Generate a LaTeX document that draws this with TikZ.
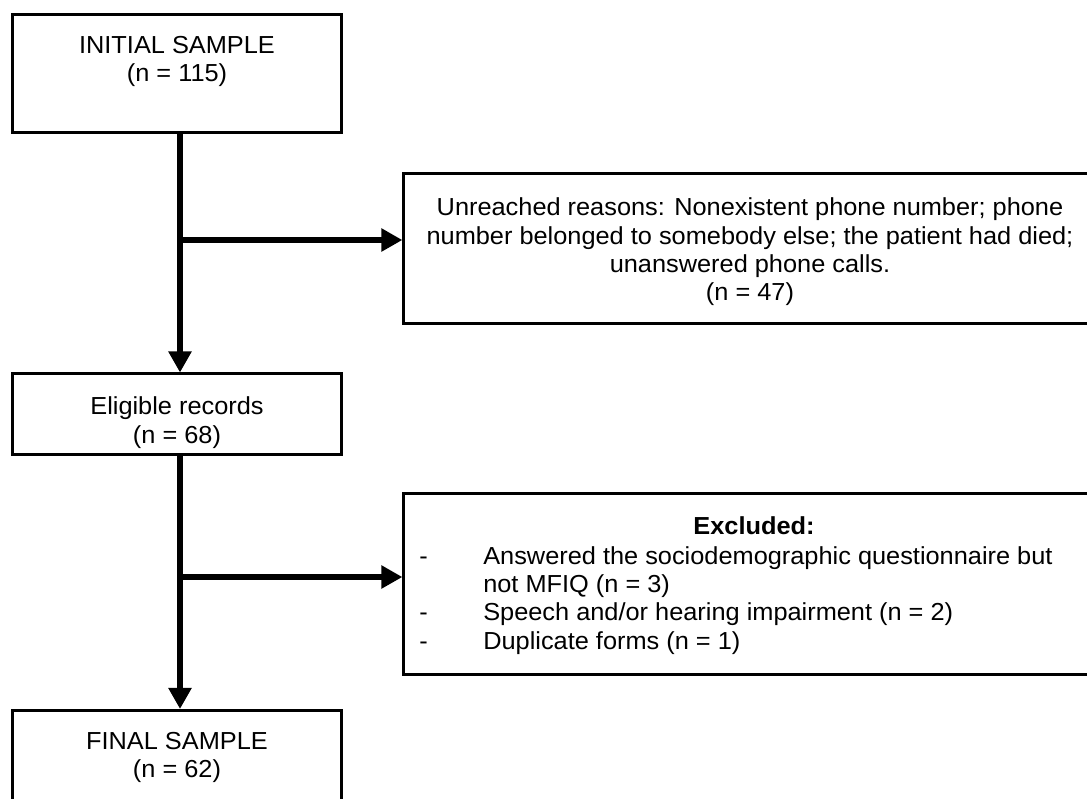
\documentclass[tikz,border=0pt]{standalone}
\usepackage{fontspec}
\setmainfont{Liberation Sans}[FakeStretch=1.03]
\usetikzlibrary{arrows.meta, positioning}
\newcommand{\dashitem}{\makebox[1.6cm][l]{-}}
\tikzset{
  box/.style={draw, rectangle, line width=0.075cm, inner sep=0pt},
  sidebox/.style={box, minimum width=8.2cm, minimum height=2.95cm},
  flowtext/.style={inner sep=0pt, align=center, font=\fontsize{17.5pt}{20.2pt}\selectfont},
  trunk/.style={line width=0.15cm, -{Triangle[length=0.525cm, width=0.55cm]}}
}
\begin{document}
\begin{tikzpicture}[x=0.025cm, y=-0.025cm]
    \useasboundingbox (0,0) rectangle (1087,798);
    \clip (0,0) rectangle (1087,798);

    % Main column
    \node[sidebox] (init) at (177,73.5) {};
    \node[sidebox, minimum height=2cm] (elig) at (177,414) {};
    \node[sidebox] (final) at (177,769.5) {};
    \node[flowtext, anchor=north] (initlbl) at (177,36) {INITIAL SAMPLE\\(n = 115)};
    \node[flowtext, anchor=north] (eliglbl) at (177,396.5) {Eligible records\\(n = 68)};
    \node[flowtext, anchor=north] (finallbl) at (177,732) {FINAL SAMPLE\\(n = 62)};

    % Side boxes
    \node[box, minimum width=17.4cm, minimum height=3.75cm] (unreach) at (752,248.5) {};
    \node[flowtext, anchor=north] (unreachlbl) at (750,197.5) {Unreached reasons: Nonexistent phone number; phone\\number belonged to somebody else; the patient had died;\\unanswered phone calls.\\(n = 47)};
    \node[box, minimum width=17.5cm, minimum height=4.525cm] (excl) at (754,584) {};
    \node[flowtext, anchor=north, font=\fontsize{17.5pt}{20.2pt}\selectfont\bfseries] (excllbl) at (754,516) {Excluded:};
    \node[flowtext, anchor=north west, align=left] (excllist) at (419,546) {\dashitem Answered the sociodemographic questionnaire but\\\hspace*{1.6cm}not MFIQ (n = 3)\\\dashitem Speech and/or hearing impairment (n = 2)\\\dashitem Duplicate forms (n = 1)};

    % Connectors
    \coordinate (j1) at (180,240);
    \coordinate (j2) at (180,577);
    \draw[trunk] (init.south -| j1) -- (elig.north -| j1);
    \draw[trunk] (elig.south -| j2) -- (final.north -| j2);
    \draw[trunk] (j1) -- (j1 -| unreach.west);
    \draw[trunk] (j2) -- (j2 -| excl.west);
\end{tikzpicture}
\end{document}
